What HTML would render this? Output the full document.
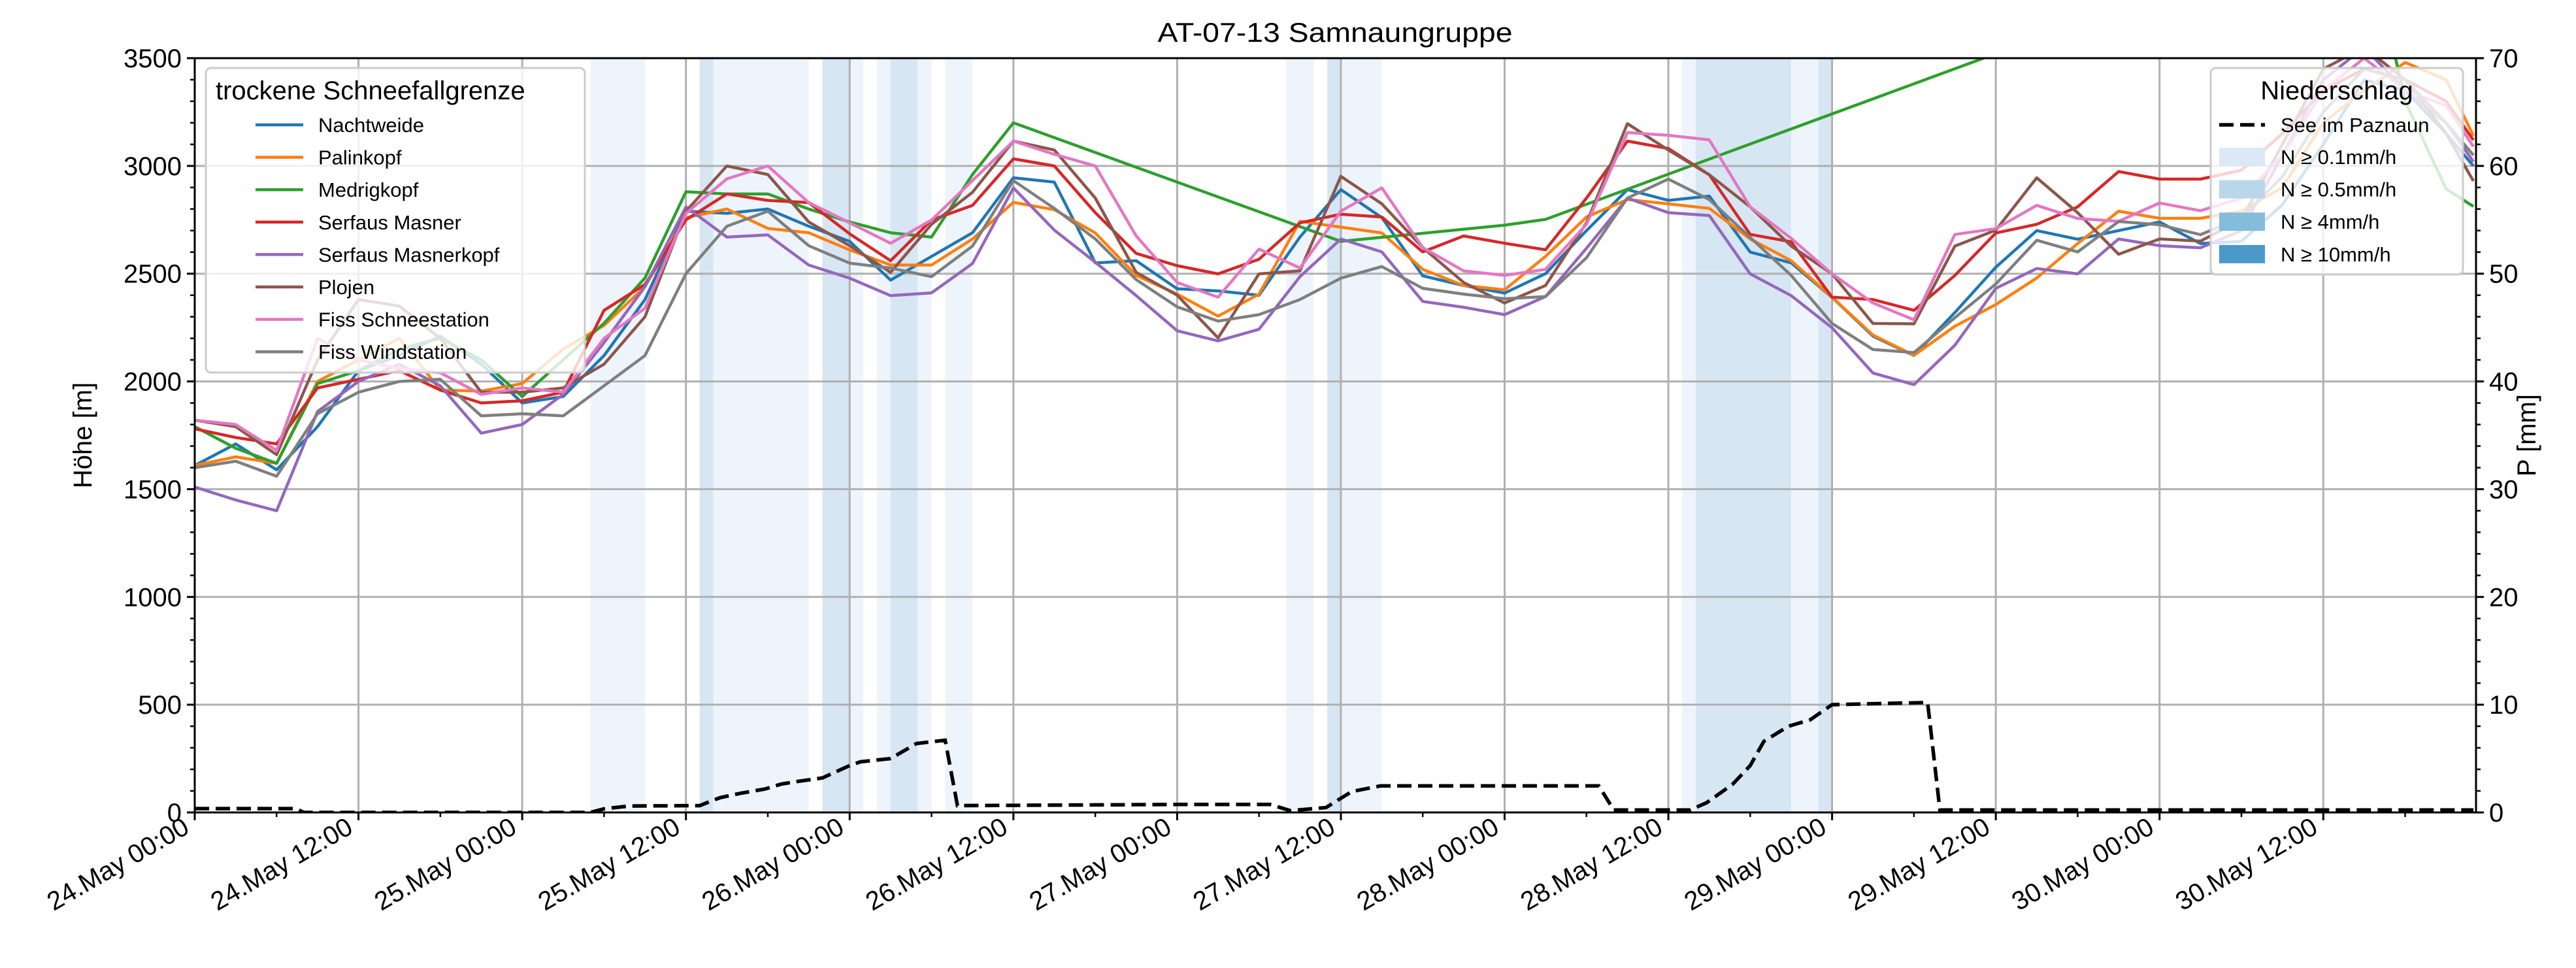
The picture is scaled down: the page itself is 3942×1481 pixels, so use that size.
<!DOCTYPE html>
<html><head><meta charset="utf-8"><title>AT-07-13 Samnaungruppe</title>
<style>
html,body{margin:0;padding:0;background:#fff;}
svg{display:block;font-family:"Liberation Sans","DejaVu Sans",sans-serif;}
</style></head>
<body>
<svg id="chart" width="3942" height="1481" viewBox="0 0 3942 1481" xmlns="http://www.w3.org/2000/svg">
<defs><clipPath id="plotclip"><rect x="298" y="89" width="3491" height="1154"/></clipPath></defs>
<rect x="0" y="0" width="3942" height="1481" fill="#fff"/>
<g id="bands" clip-path="url(#plotclip)"></g>
<g id="grid"></g>
<g id="lines" clip-path="url(#plotclip)"></g>
<g id="precip" clip-path="url(#plotclip)"></g>
<g id="axes"></g>
<text x="2043" y="64" text-anchor="middle" font-size="42" textLength="543" lengthAdjust="spacingAndGlyphs">AT-07-13 Samnaungruppe</text>
<text transform="translate(140,666) rotate(-90)" text-anchor="middle" font-size="40">Höhe [m]</text>
<text transform="translate(3880,666) rotate(-90)" text-anchor="middle" font-size="40">P [mm]</text>
<g id="legend1"></g>
<g id="legend2"></g>
</svg>
<script>
const hours = [0,3,6,9,12,15,18,21,24,27,30,33,36,39,42,45,48,51,54,57,60,63,66,69,72,75,78,81,84,87,90,93,96,99,102,105,108,111,114,117,120,123,126,129,132,135,138,141,144,147,150,153,156,159,162,165,167];
const nachtweide = [1610,1710,1590,1790,2050,2120,2210,2080,1900,1930,2120,2380,2790,2780,2800,2720,2650,2470,2580,2690,2945,2925,2550,2560,2430,2420,2400,2670,2890,2760,2490,2445,2410,2500,2700,2890,2840,2860,2600,2550,2390,2210,2120,2320,2530,2700,2660,2700,2740,2640,2650,2820,3100,3400,3350,3150,3000];
const palinkopf = [1610,1650,1620,2000,2100,2200,1960,1955,1990,2150,2260,2440,2760,2800,2710,2690,2610,2540,2540,2661,2831,2797,2689,2492,2405,2303,2405,2743,2716,2689,2520,2445,2425,2580,2763,2844,2824,2803,2661,2560,2391,2215,2121,2256,2357,2480,2640,2790,2757,2757,2790,2900,3200,3350,3480,3400,3140];
const medrigkopf = [1790,1690,1620,1990,2050,2150,2200,2100,1930,2100,2270,2480,2880,2870,2870,2800,2740,2690,2670,2960,3200,null,null,null,null,null,null,null,2650,null,null,null,2725,2752,null,null,null,null,null,null,null,null,null,null,null,null,null,null,null,null,null,null,null,4150,3300,2893,2812];
const serfausMasner = [1780,1740,1710,1970,2010,2050,1960,1900,1910,1950,2330,2450,2750,2870,2840,2830,2685,2560,2749,2817,3033,3000,2783,2594,2537,2499,2567,2736,2776,2763,2601,2675,2641,2611,2851,3115,3081,2959,2682,2648,2391,2380,2330,2492,2689,2729,2810,2974,2939,2939,2980,3150,3350,3450,3400,3300,3120];
const masnerkopf = [1510,1450,1400,1860,2000,2080,1980,1760,1800,1940,2180,2440,2810,2670,2680,2540,2479,2398,2411,2547,2898,2702,2553,2398,2235,2188,2242,2486,2661,2601,2371,2344,2310,2394,2618,2851,2783,2770,2499,2398,2249,2039,1985,2168,2432,2524,2499,2661,2630,2620,2700,3050,3400,3550,3350,3200,3020];
const plojen = [1820,1790,1660,2100,2380,2350,2200,1950,1950,1970,2080,2300,2790,3000,2960,2740,2630,2506,2729,2878,3115,3074,2851,2506,2400,2202,2499,2513,2952,2824,2621,2459,2364,2445,2736,3196,3074,2959,2810,2628,2499,2269,2267,2628,2702,2945,2783,2590,2661,2651,2750,3100,3450,3550,3400,3150,2930];
const fissSchnee = [1820,1800,1680,2200,2100,2060,2040,1940,1970,1950,2200,2340,2780,2940,3000,2830,2736,2641,2749,2932,3115,3054,3000,2675,2459,2391,2614,2526,2790,2898,2621,2513,2492,2520,2729,3155,3142,3121,2810,2664,2499,2364,2286,2682,2709,2817,2756,2743,2828,2792,2850,3050,3350,3500,3350,3280,3090];
const fissWind = [1600,1630,1560,1850,1950,2000,2010,1840,1850,1840,1980,2120,2500,2720,2790,2630,2549,2526,2486,2628,2932,2803,2661,2472,2346,2280,2310,2380,2479,2533,2432,2405,2384,2394,2574,2851,2939,2844,2668,2492,2269,2148,2134,2296,2452,2655,2601,2742,2727,2681,2760,2950,3250,3450,3400,3200,3050];
const seriesNames = ["Nachtweide","Palinkopf","Medrigkopf","Serfaus Masner","Serfaus Masnerkopf","Plojen","Fiss Schneestation","Fiss Windstation"];
const seriesColors = ["#1f77b4","#ff7f0e","#2ca02c","#d62728","#9467bd","#8c564b","#e377c2","#7f7f7f"];
const precipHours = [0,7.4,8,29,30,31.9,37,38.5,40,41.8,43,44.3,46,48,48.8,51,52.9,55,55.9,71.9,78.8,80.3,82.9,84.8,86.9,102.9,104,109.6,110.8,112.7,114,115,116.8,118.4,120,127,127.9,167];
const precipMM = [0.36,0.36,0,0,0.34,0.6,0.63,1.37,1.78,2.18,2.64,2.9,3.2,4.35,4.7,5.0,6.4,6.7,0.63,0.74,0.74,0.17,0.45,1.94,2.46,2.46,0.23,0.23,0.9,2.6,4.35,6.6,8.0,8.6,10.0,10.2,0.23,0.23];
const bandStart = [29,37,38,46,48,50,51,53,55,80,83,84,109,110,117,119];
const bandEnd   = [33,38,45,48,49,51,53,54,57,82,84,87,110,117,119,120];
const bandLevel = [1,2,1,2,1,1,2,1,1,1,2,1,1,2,1,2];
const yTicks = [0,500,1000,1500,2000,2500,3000,3500];
const y2Ticks = [0,10,20,30,40,50,60,70];
const xTickLabels = ["24.May 00:00","24.May 12:00","25.May 00:00","25.May 12:00","26.May 00:00","26.May 12:00","27.May 00:00","27.May 12:00","28.May 00:00","28.May 12:00","29.May 00:00","29.May 12:00","30.May 00:00","30.May 12:00"];
const precipLegend = ["N ≥ 0.1mm/h","N ≥ 0.5mm/h","N ≥ 4mm/h","N ≥ 10mm/h"];
const precipLegendColors = ["#dbe9f6","#bad6eb","#84bcdb","#4a98c9"];

const NS="http://www.w3.org/2000/svg";
const X0=298, X1=3789, Y0=1243, YT=89;
const HMAX=(X1-X0)/20.88;
const xs=h=>X0+(h/HMAX)*(X1-X0);
const ys=v=>Y0-(v/3500)*(Y0-YT);
const ys2=v=>Y0-(v/70)*(Y0-YT);
function mk(tag,attrs,parent){const e=document.createElementNS(NS,tag);for(const k in attrs)e.setAttribute(k,attrs[k]);parent.appendChild(e);return e;}

const gb=document.getElementById('bands');
for(let i=0;i<bandStart.length;i++){
  const r=mk('rect',{x:xs(bandStart[i]),y:YT,width:xs(bandEnd[i])-xs(bandStart[i]),height:Y0-YT,fill:bandLevel[i]===1?'#eef4fb':'#d7e6f3'},gb);
  
  
}
const gg=document.getElementById('grid');
yTicks.forEach(v=>{const l=mk('line',{x1:X0,x2:X1,y1:ys(v),y2:ys(v),stroke:'#b0b0b0','stroke-width':3},gg);
  
  });
xTickLabels.forEach((t,i)=>{const l=mk('line',{x1:xs(i*12),x2:xs(i*12),y1:YT,y2:Y0,stroke:'#b0b0b0','stroke-width':3},gg);
  
  });
const gl=document.getElementById('lines');
const allSeries=[nachtweide,palinkopf,medrigkopf,serfausMasner,masnerkopf,plojen,fissSchnee,fissWind];
allSeries.forEach((s,si)=>{
  const pts=[];
  s.forEach((v,i)=>{if(v!==null)pts.push(xs(hours[i]).toFixed(1)+','+ys(v).toFixed(1));});
  const p=mk('polyline',{points:pts.join(' '),fill:'none',stroke:seriesColors[si],'stroke-width':4.5,'stroke-linejoin':'round'},gl);
  
  
});
const gp=document.getElementById('precip');
const pp=mk('polyline',{points:precipHours.map((h,i)=>xs(h).toFixed(1)+','+ys2(precipMM[i]).toFixed(1)).join(' '),fill:'none',stroke:'#000','stroke-width':5.5,'stroke-dasharray':'22,10'},gp);


const ga=document.getElementById('axes');
const fr=mk('rect',{x:X0,y:YT,width:X1-X0,height:Y0-YT,fill:'none',stroke:'#000','stroke-width':3},ga);


yTicks.forEach(v=>{mk('line',{x1:X0-12,x2:X0,y1:ys(v),y2:ys(v),stroke:'#000','stroke-width':3},ga);
  const t=mk('text',{x:X0-20,y:ys(v)+14,'text-anchor':'end','font-size':40},ga);t.textContent=v;
  
  });
for(let v=100;v<3500;v+=100){if(v%500)mk('line',{x1:X0-7,x2:X0,y1:ys(v),y2:ys(v),stroke:'#000','stroke-width':2.5},ga);}
y2Ticks.forEach(v=>{mk('line',{x1:X1,x2:X1+12,y1:ys2(v),y2:ys2(v),stroke:'#000','stroke-width':3},ga);
  const t=mk('text',{x:X1+20,y:ys2(v)+14,'text-anchor':'start','font-size':40},ga);t.textContent=v;
  
  });
for(let v=2;v<70;v+=2){if(v%10)mk('line',{x1:X1,x2:X1+7,y1:ys2(v),y2:ys2(v),stroke:'#000','stroke-width':2.5},ga);}
xTickLabels.forEach((lab,i)=>{const x=xs(i*12);
  mk('line',{x1:x,x2:x,y1:Y0,y2:Y0+12,stroke:'#000','stroke-width':3},ga);
  mk('line',{x1:xs(i*12+6),x2:xs(i*12+6),y1:Y0,y2:Y0+7,stroke:'#000','stroke-width':2.5},ga);
  const t=mk('text',{transform:`translate(${x-6},${Y0+30}) rotate(-30)`,'text-anchor':'end','font-size':40},ga);t.textContent=lab;
  
  });
const l1=document.getElementById('legend1');
mk('rect',{x:315,y:104,width:580,height:466,rx:8,fill:'#fff','fill-opacity':0.8,stroke:'#cccccc','stroke-width':3},l1);
const lt1=mk('text',{x:330,y:152,'font-size':40},l1);lt1.textContent='trockene Schneefallgrenze';


seriesNames.forEach((n,i)=>{const y=191+i*49.6;
  mk('line',{x1:391,x2:464,y1:y,y2:y,stroke:seriesColors[i],'stroke-width':4.5},l1);
  const t=mk('text',{x:487,y:y+11,'font-size':31},l1);t.textContent=n;
  
  });
const l2=document.getElementById('legend2');
mk('rect',{x:3383,y:104,width:386,height:316,rx:8,fill:'#fff','fill-opacity':0.8,stroke:'#cccccc','stroke-width':3},l2);
const lt2=mk('text',{x:3576,y:152,'font-size':40,'text-anchor':'middle'},l2);lt2.textContent='Niederschlag';


mk('line',{x1:3396,x2:3466,y1:191,y2:191,stroke:'#000','stroke-width':5.5,'stroke-dasharray':'22,10'},l2);
const ts=mk('text',{x:3490,y:202,'font-size':31},l2);ts.textContent='See im Paznaun';


precipLegend.forEach((n,i)=>{const y=240+i*49.6;
  mk('rect',{x:3396,y:y-14,width:70,height:28,fill:precipLegendColors[i]},l2);
  const t=mk('text',{x:3490,y:y+11,'font-size':31},l2);t.textContent=n;
  
  });
</script>
</body></html>
